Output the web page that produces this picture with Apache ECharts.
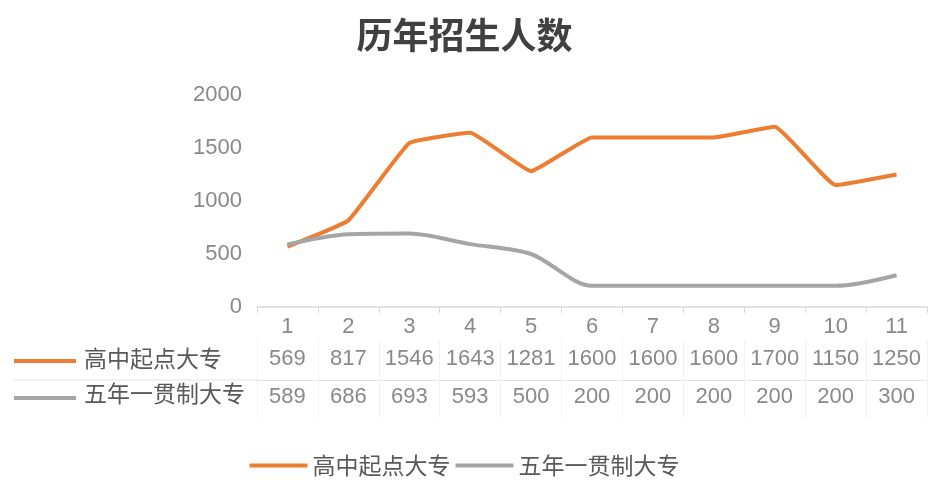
<!DOCTYPE html>
<html><head><meta charset="utf-8">
<script src="https://cdn.jsdelivr.net/npm/echarts@6/dist/echarts.min.js"></script>
<style>html,body{margin:0;padding:0;background:#fff}#c{width:929px;height:482px}</style>
</head><body><div id="c"></div>
<script>
const categories = ['1','2','3','4','5','6','7','8','9','10','11'];
const seriesNames = ['高中起点大专','五年一贯制大专'];
const highSchool = [569, 817, 1546, 1643, 1281, 1600, 1600, 1600, 1700, 1150, 1250];
const fiveYear = [589, 686, 693, 593, 500, 200, 200, 200, 200, 200, 300];
const yTicks = [0, 500, 1000, 1500, 2000];

const font = '"Liberation Sans", "Noto Sans CJK SC", sans-serif';
const cjkFont = '"Noto Sans CJK SC", sans-serif';
const labelColor = '#898989';
const textColor = '#595959';
const colors = ['#ED7D31', '#A5A5A5'];

const chart = echarts.init(document.getElementById('c'));
chart.setOption({
  backgroundColor: '#fff',
  animation: false,
  title: {
    text: '历年招生人数', left: 'center', top: 12,
    textStyle: { fontFamily: cjkFont, fontSize: 36, fontWeight: 'bold', color: '#404040' }
  },
  grid: { left: 257, right: 2, top: 95, bottom: 175 },
  legend: {
    bottom: 0, left: 'center', itemGap: 5, itemWidth: 58, itemHeight: 4,
    icon: 'rect',
    textStyle: { fontFamily: cjkFont, fontSize: 23, color: textColor },
    data: seriesNames
  },
  xAxis: [
    {
      type: 'category', data: categories, boundaryGap: true,
      axisLine: { lineStyle: { color: '#d9d9d9', width: 1.5 } },
      axisTick: { show: true, length: 6, lineStyle: { color: '#d9d9d9' } },
      axisLabel: { interval: 0, margin: 9, fontFamily: font, fontSize: 22, color: labelColor }
    },
    {
      type: 'category', data: highSchool.map(String), position: 'bottom', offset: 33,
      axisLine: { show: false },
      axisTick: { show: true, interval: 0, length: 40, lineStyle: { color: '#f2f2f2' } },
      axisLabel: { interval: 0, hideOverlap: false, margin: 8, fontFamily: font, fontSize: 22, color: labelColor }
    },
    {
      type: 'category', data: fiveYear.map(String), position: 'bottom', offset: 73,
      axisLine: { lineStyle: { color: '#e3e3e3', width: 1 } },
      axisTick: { show: true, interval: 0, length: 38, lineStyle: { color: '#f2f2f2' } },
      axisLabel: { interval: 0, hideOverlap: false, margin: 6, fontFamily: font, fontSize: 22, color: labelColor }
    }
  ],
  yAxis: {
    type: 'value', min: 0, max: 2000, interval: 500,
    axisLine: { show: false }, axisTick: { show: false },
    splitLine: { show: false },
    axisLabel: { margin: 15, fontFamily: font, fontSize: 22, color: labelColor,
      formatter: v => yTicks.includes(v) ? String(v) : '' }
  },
  series: [
    { name: seriesNames[0], type: 'line', data: highSchool, smooth: 0.1, symbol: 'none',
      lineStyle: { color: colors[0], width: 4 }, itemStyle: { color: colors[0] } },
    { name: seriesNames[1], type: 'line', data: fiveYear, smooth: 0.3, symbol: 'none',
      lineStyle: { color: colors[1], width: 4 }, itemStyle: { color: colors[1] } }
  ],
  graphic: [
    { type: 'line', shape: { x1: 14, y1: 361, x2: 76, y2: 361 }, style: { stroke: colors[0], lineWidth: 4 } },
    { type: 'text', left: 84, top: 347, style: { text: seriesNames[0], font: '23px ' + cjkFont, fill: textColor } },
    { type: 'line', shape: { x1: 14, y1: 380, x2: 257, y2: 380 }, style: { stroke: '#e3e3e3', lineWidth: 1 } },
    { type: 'line', shape: { x1: 14, y1: 398, x2: 76, y2: 398 }, style: { stroke: colors[1], lineWidth: 4 } },
    { type: 'text', left: 84, top: 382, style: { text: seriesNames[1], font: '23px ' + cjkFont, fill: textColor } }
  ]
});
</script></body></html>
